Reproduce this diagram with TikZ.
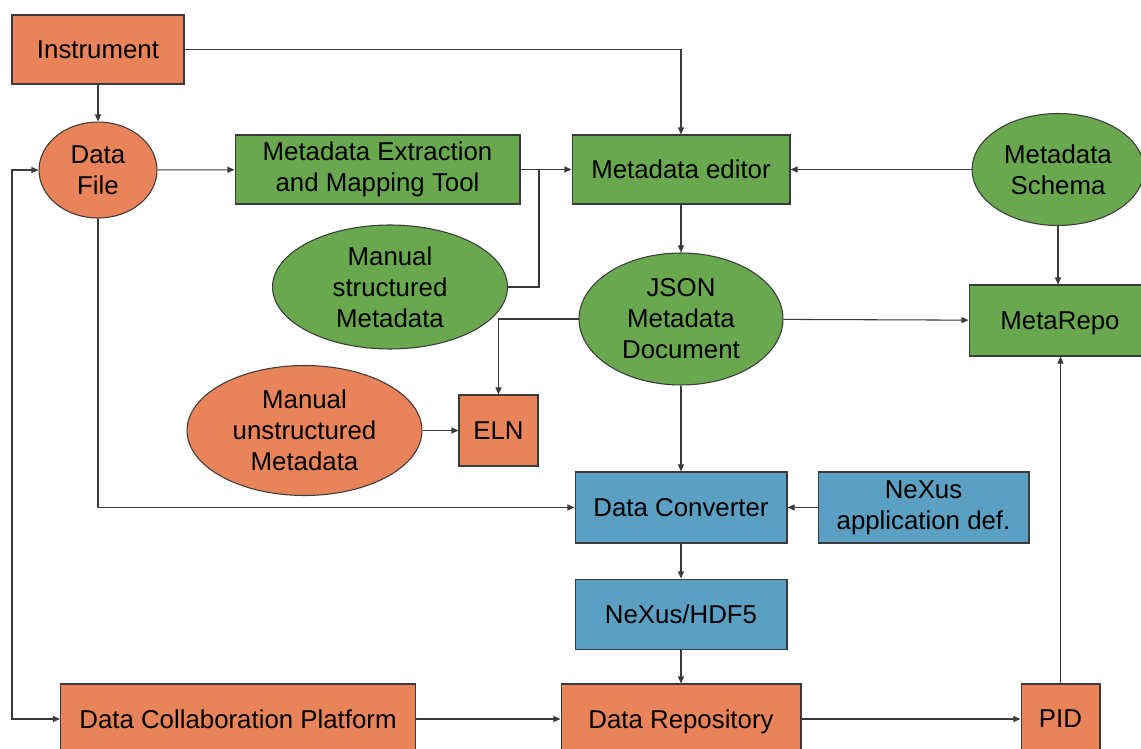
\documentclass[tikz,border=0pt]{standalone}
\usepackage{fontspec}
\setmainfont{Liberation Sans}
\usepackage{tikz}
\usetikzlibrary{arrows.meta,positioning,shapes.geometric,calc}
\definecolor{floworange}{HTML}{E8835A}
\definecolor{flowgreen}{HTML}{6AA84F}
\definecolor{flowblue}{HTML}{5BA0C2}
\definecolor{flowline}{HTML}{3A3A3A}

\begin{document}
\begin{tikzpicture}[
x=0.02cm,y=-0.02cm,
>={Triangle[length=4pt,width=3.4pt]},
every node/.style={font=\fontsize{14.7}{17.6}\selectfont},
box/.style={draw=flowline,line width=0.6pt,inner sep=2pt,align=center,minimum height=1.38cm},
obox/.style={box,fill=floworange},
gbox/.style={box,fill=flowgreen},
bbox/.style={box,fill=flowblue,minimum height=1.42cm},
oell/.style={ellipse,draw=flowline,line width=0.6pt,inner sep=0pt,align=center,fill=floworange},
gell/.style={ellipse,draw=flowline,line width=0.6pt,inner sep=0pt,align=center,fill=flowgreen},
arr/.style={->,line width=0.6pt,draw=flowline},
line/.style={line width=0.6pt,draw=flowline}
]
\useasboundingbox (0,0) rectangle (1141,749);
\clip (0,0) rectangle (1141,749);

% top row
\node[obox,minimum width=3.44cm] (instr) at (98,49.5) {Instrument};
\node[oell,minimum width=2.36cm,minimum height=1.92cm,below=0.74cm of instr] (datafile) {Data\\File};
\node[gbox,minimum width=5.7cm] (extract) at (377.5,169.5) {Metadata Extraction\\and Mapping Tool};
\node[gbox,minimum width=4.36cm] (editor) at (681,169.5) {Metadata editor};
\node[gell,minimum width=3.44cm,minimum height=2.24cm] (schema) at (1058,169.5) {Metadata\\Schema};

% metadata sources
\node[gell,minimum width=4.7cm,minimum height=2.48cm] (mstruct) at (390,287) {Manual\\structured\\Metadata};
\node[gell,minimum width=4.08cm,minimum height=2.64cm] (json) at (681,319) {JSON\\Metadata\\Document};
\node[gbox,minimum width=3.64cm,minimum height=1.42cm,text depth=0pt] (metarepo) at (1060,320.5) {MetaRepo};
\node[oell,minimum width=4.7cm,minimum height=2.6cm] (munstruct) at (304.5,430.5) {Manual\\unstructured\\Metadata};
\node[obox,minimum width=1.58cm,minimum height=1.42cm] (eln) at (498.5,430.5) {ELN};

% conversion
\node[bbox,minimum width=4.24cm] (converter) at (681,507.5) {Data Converter};
\node[bbox,minimum width=4.22cm] (appdef) at (923.5,507.5) {NeXus\\application def.};
\node[bbox,minimum width=4.24cm,minimum height=1.4cm,below=0.7cm of converter] (hdf5) {NeXus/HDF5};

% bottom row
\node[obox,minimum width=7.1cm,minimum height=1.4cm] (dcp) at (238,719) {Data Collaboration Platform};
\node[obox,minimum width=4.8cm,minimum height=1.4cm,text depth=0pt] (repo) at (681,719) {Data Repository};
\node[obox,minimum width=1.58cm,minimum height=1.4cm] (pid) at (1060.5,719) {PID};

\coordinate (join) at (539,169.5);
\coordinate (loop) at (12,0);

\draw[arr] (instr) -| (editor);
\draw[arr] (instr) -- (datafile);
\draw[arr] (datafile) -- (extract);
\draw[arr] (extract) -- (editor);
\draw[line] (mstruct.east) -| (join);
\draw[arr] (schema) -- (editor);
\draw[arr] (editor) -- (json);
\draw[arr] (json) -- (metarepo);
\draw[arr] (schema.south) -- (schema.south |- metarepo.north);
\draw[arr] (json) -| (eln);
\draw[arr] (munstruct) -- (eln);
\draw[arr] (json) -- (converter);
\draw[arr] (datafile) |- (converter);
\draw[arr] (appdef) -- (converter);
\draw[arr] (converter) -- (hdf5);
\draw[arr] (hdf5) -- (repo);
\draw[arr] (dcp) -- (repo);
\draw[arr] (repo) -- (pid);
\draw[arr] (pid) -- (pid |- metarepo.south);
\draw[arr,<->] (datafile.west) -- (datafile.west -| loop) |- (dcp.west);
\end{tikzpicture}
\end{document}
